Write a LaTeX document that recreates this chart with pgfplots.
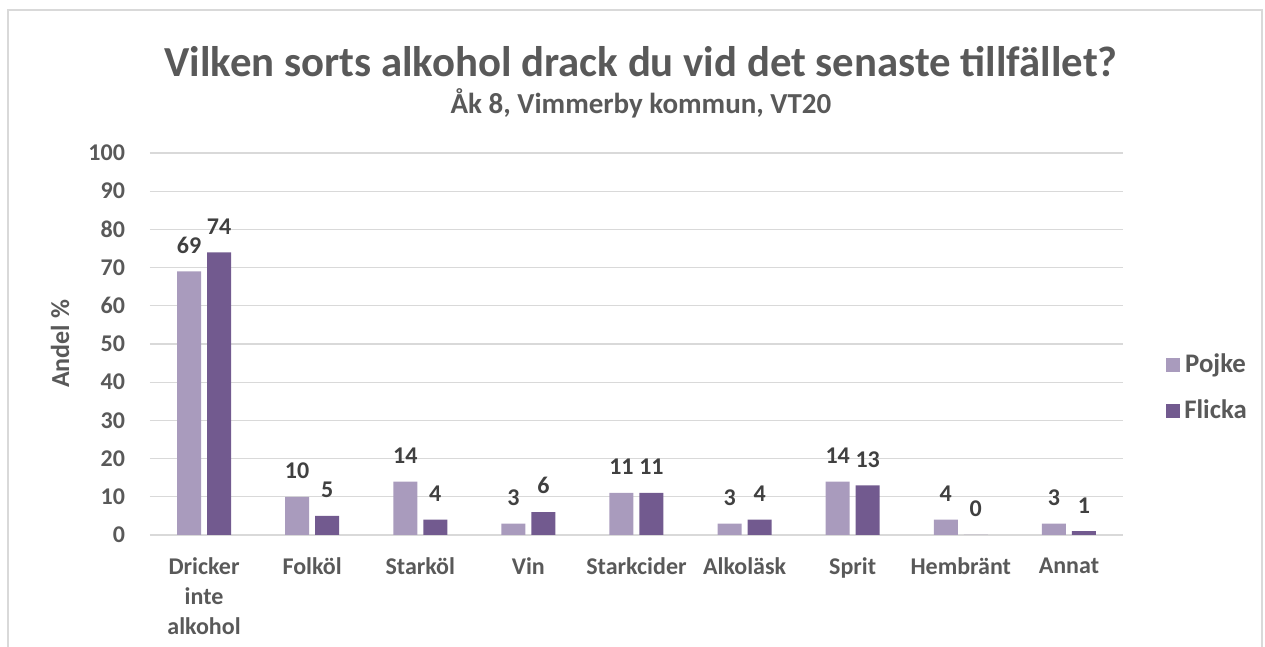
\documentclass[border=0pt]{standalone}
\usepackage{pgfplots}
\pgfplotsset{compat=1.18}
\usepackage{fontspec}
\setmainfont{Carlito}
\definecolor{cPojke}{HTML}{A99BBD}
\definecolor{cFlicka}{HTML}{725A8F}
\definecolor{cText}{HTML}{595959}
\definecolor{cLabel}{HTML}{404040}
\definecolor{cGrid}{HTML}{D9D9D9}
\begin{document}
\begin{tikzpicture}
% page = 1265 x 647 px, 1 px = 0.5pt
\path[use as bounding box] (0,0) rectangle (632.5pt,323.5pt);
\draw[cGrid,line width=0.6pt] (4pt,0) -- (4pt,318.5pt) -- (631pt,318.5pt) -- (631pt,0);
\node[font=\bfseries\fontsize{21.4}{25}\selectfont,text=cText] at (320.5pt,292.5pt) {Vilken sorts alkohol drack du vid det senaste tillfället?};
\node[font=\bfseries\fontsize{14.5}{17}\selectfont,text=cText] at (320.5pt,272pt) {Åk 8, Vimmerby kommun, VT20};
\begin{axis}[
  at={(75pt,56pt)}, anchor=south west,
  scale only axis, width=486.5pt, height=191pt,
  ybar=3pt, bar width=12pt,
  xmin=-0.5, xmax=8.5, ymin=0, ymax=100,
  xtick=data,
  xticklabels={Dricker\\inte\\alkohol,Folköl,Starköl,Vin,Starkcider,Alkoläsk,Sprit,Hembränt,Annat},
  x tick label style={align=center,font=\bfseries\fontsize{12}{15}\selectfont,text=cText,yshift=-8pt},
  ytick={0,10,...,100},
  y tick label style={font=\bfseries\fontsize{12}{14}\selectfont,text=cText,xshift=-9pt},
  /pgf/number format/assume math mode=true,
  ymajorgrids, grid style={cGrid,line width=0.6pt},
  axis lines*=left,
  x axis line style={cGrid,line width=0.6pt,-},
  y axis line style={draw=none},
  major tick length=0pt,
  ylabel={Andel \%},
  every axis y label/.style={at={(-45pt,95.5pt)},rotate=90,anchor=center,
    font=\bfseries\fontsize{13}{15}\selectfont,text=cText},
  nodes near coords,
  nodes near coords style={font=\bfseries\fontsize{12}{14}\selectfont,text=cLabel,yshift=5.5pt},
  legend style={at={(1.038,0.385)},anchor=west,draw=none,fill=none,
    font=\bfseries\fontsize{13.4}{16}\selectfont,text=cText,row sep=8pt},
  legend image code/.code={\fill[#1] (0pt,-3.5pt) rectangle (7pt,3.5pt);},
]
\addplot[fill=cPojke,draw=none] coordinates {
  (0,69) (1,10) (2,14) (3,3) (4,11) (5,3) (6,14) (7,4) (8,3)};
\addplot[fill=cFlicka,draw=none] coordinates {
  (0,74) (1,5) (2,4) (3,6) (4,11) (5,4) (6,13) (7,0) (8,1)};
\legend{Pojke,Flicka}
\end{axis}
\end{tikzpicture}
\end{document}
